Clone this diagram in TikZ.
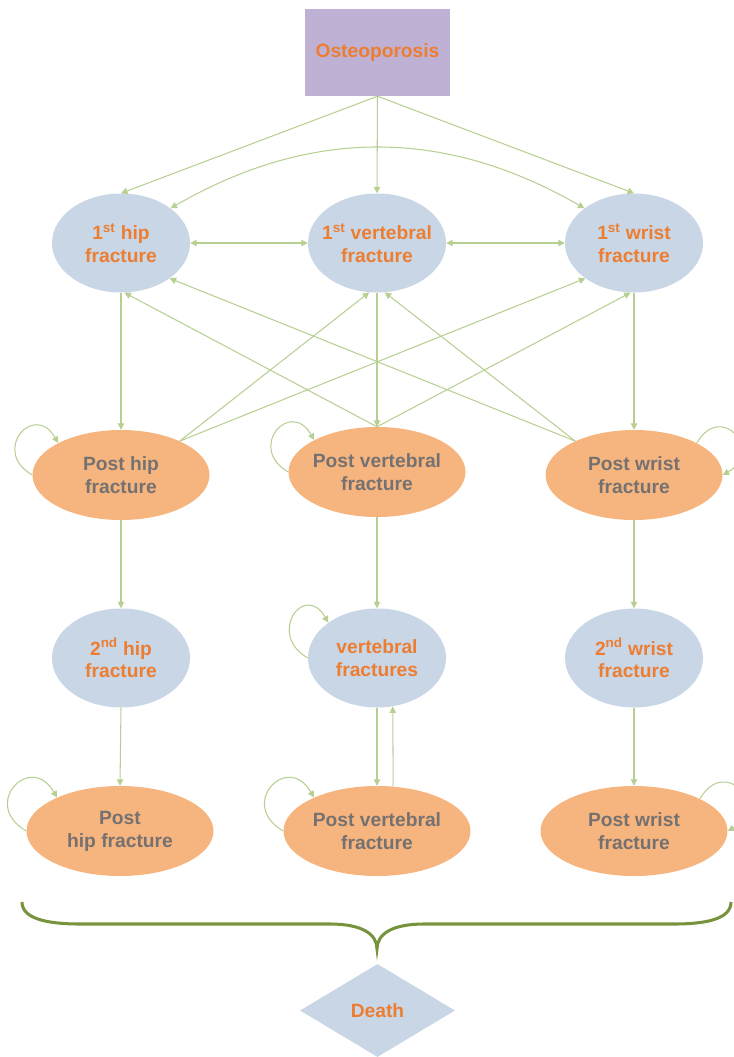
\documentclass[tikz,border=0pt]{standalone}
\usepackage{fontspec}
\setmainfont{Liberation Sans}
\usetikzlibrary{shapes.geometric,arrows.meta}
\definecolor{lilac}{RGB}{191,177,212}
\definecolor{paleblue}{RGB}{200,214,230}
\definecolor{peach}{RGB}{246,181,126}
\definecolor{orangetxt}{RGB}{237,125,49}
\definecolor{greytxt}{RGB}{118,113,113}
\definecolor{linkgreen}{RGB}{183,208,146}
\definecolor{bracegreen}{RGB}{119,147,60}
\begin{document}
\begin{tikzpicture}[x=0.03cm,y=0.03cm,>={Triangle[length=5.5pt,width=5.5pt]},
  every node/.style={font=\fontsize{16.4}{19.5}\selectfont\bfseries,align=center,inner sep=0pt},
  event/.style={ellipse,fill=paleblue,text=orangetxt,minimum width=4.14cm,minimum height=2.97cm},
  state/.style={ellipse,fill=peach,text=greytxt,minimum width=5.31cm,minimum height=2.7cm},
  laststate/.style={state,minimum width=5.61cm},
  link/.style={draw=linkgreen,line width=0.9pt,->}]
\useasboundingbox (0,0) rectangle (734,-1057);
% top
\node[fill=lilac,text=orangetxt,minimum width=4.35cm,minimum height=2.61cm] (ost) at (377.5,-52.5) {Osteoporosis};
% first fractures
\node[event] (h1) at (121,-243) {1\textsuperscript{st} hip\\fracture};
\node[event] (v1) at (377,-243) {\makebox[0pt]{1\textsuperscript{st} vertebral}\\fracture};
\node[event] (w1) at (634,-243) {1\textsuperscript{st} wrist\\fracture};
% post states
\node[state] (ph) at (121,-475) {Post hip\\fracture};
\node[state] (pv) at (377,-472) {\makebox[0pt]{Post vertebral}\\fracture};
\node[state] (pw) at (634,-475) {Post wrist\\fracture};
% second fractures
\node[event] (h2) at (121,-658) {2\textsuperscript{nd} hip\\fracture};
\node[event] (v2) at (377,-658) {vertebral\\fractures};
\node[event] (w2) at (634,-658) {2\textsuperscript{nd} wrist\\fracture};
% post second states
\node[laststate] (ph2) at (120,-831) {Post\\hip fracture};
\node[laststate] (pv2) at (377,-831) {Post vertebral\\fracture};
\node[laststate] (pw2) at (634,-831) {Post wrist\\fracture};
% death
\node[diamond,fill=paleblue,text=orangetxt,minimum width=4.65cm,minimum height=2.79cm] (death) at (377.5,-1010.5) {Death};

\draw[link] (ost.south) -- (h1.north);
\draw[link] (ost.south) -- (v1.north);
\draw[link] (ost.south) -- (w1.north);
\draw[link,<->] (h1.35) to[bend left=30] (w1.145);
\draw[link,<->] (h1.east) -- (v1.west);
\draw[link,<->] (v1.east) -- (w1.west);

\draw[link] (h1.south) -- (ph.north);
\draw[link] (v1.south) -- (pv.north);
\draw[link] (w1.south) -- (pw.north);
\draw[link] (pv.north) -- (h1.-86);
\draw[link] (pv.north) -- (w1.-94);
\draw[link] (ph.30) -- (v1.-99);
\draw[link] (ph.30) -- (w1.216);
\draw[link] (pw.150) -- (h1.-36);
\draw[link] (pw.150) -- (v1.-81);

\draw[link] (ph.south) -- (h2.north);
\draw[link] (pv.south) -- (v2.north);
\draw[link] (pw.south) -- (w2.north);
\draw[link] (h2.south) -- (ph2.north);
\draw[link] (v2.south) -- (pv2.north);
\draw[link] (pv2.70) -- (v2.-72);
\draw[link] (w2.south) -- (pw2.north);

% self loops
\draw[link] (ph.180) to[out=150,in=120,looseness=3] (ph.153);
\draw[link] (pv.180) to[out=150,in=120,looseness=3] (pv.153);
\draw[link] (v2.180) to[out=150,in=120,looseness=3] (v2.144);
\draw[link] (ph2.180) to[out=150,in=120,looseness=3] (ph2.152);
\draw[link] (pv2.180) to[out=150,in=120,looseness=3] (pv2.152);
\draw[link] (pw.27) to[out=60,in=30,looseness=3] (pw.0);
\draw[link] (pw2.26) to[out=60,in=30,looseness=3] (pw2.0);

% brace
\draw[bracegreen,line width=2.6pt]
  (22,-902) .. controls (22,-918) and (45,-924) .. (80,-924) -- (330,-924)
  .. controls (362,-924) and (377,-934) .. (377,-949)
  .. controls (377,-934) and (392,-924) .. (424,-924) -- (674,-924)
  .. controls (709,-924) and (731,-918) .. (731,-902);
\end{tikzpicture}
\end{document}
